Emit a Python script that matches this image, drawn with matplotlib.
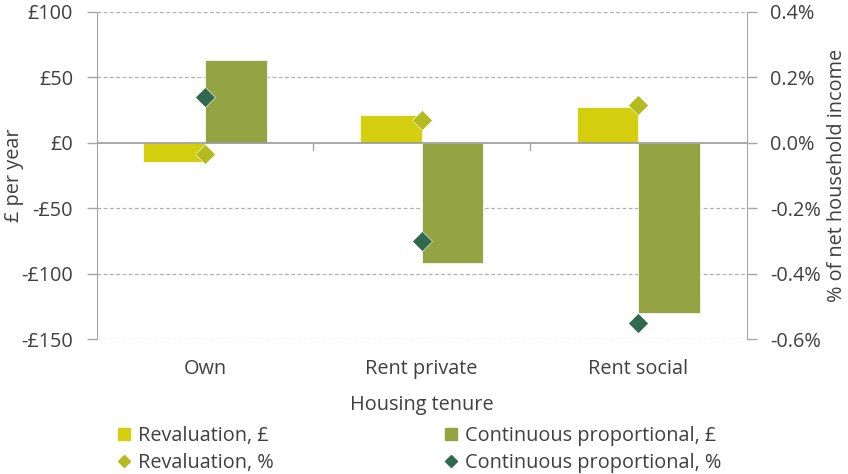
import numpy as np
import matplotlib
matplotlib.use("Agg")
import matplotlib.pyplot as plt
from matplotlib.lines import Line2D

# ============================================================
# DATA
# ============================================================
categories = ["Own", "Rent private", "Rent social"]
reval_gbp = [-15, 21, 27]
cont_gbp = [63, -92, -130]
reval_pct = [-0.036, 0.07, 0.116]
cont_pct = [0.14, -0.30, -0.55]

left_ticks = [100, 50, 0, -50, -100, -150]
right_ticks = [0.4, 0.2, 0.0, -0.2, -0.4, -0.6]

# ============================================================
# STYLE
# ============================================================
plt.rcParams['font.family'] = ['Open Sans', 'Noto Sans', 'DejaVu Sans']
TEXT = "#404040"
AXIS = "#a6a6a6"
C_REVAL_BAR = "#d4cf0e"
C_CONT_BAR = "#95a442"
C_REVAL_PT = "#b3bb1f"
C_CONT_PT = "#2f6a4f"
FS = 14.3

fig = plt.figure(figsize=(8.48, 4.74), dpi=100)
ax = fig.add_axes([0.114, 0.2848, 0.7665, 0.6905])
ax2 = ax.twinx()

x = np.arange(len(categories))
w = 0.284

ax.bar(x - w / 2, reval_gbp, w, color=C_REVAL_BAR, edgecolor="white", linewidth=0.5, zorder=3)
ax.bar(x + w / 2, cont_gbp, w, color=C_CONT_BAR, edgecolor="white", linewidth=0.5, zorder=3)
ax.axhline(0, color="#999999", linewidth=1.2, zorder=4)

ax2.plot(x, reval_pct, "D", color=C_REVAL_PT, markersize=10, markeredgecolor="white",
         markeredgewidth=0.4, zorder=5)
ax2.plot(x, cont_pct, "D", color=C_CONT_PT, markersize=10, markeredgecolor="white",
         markeredgewidth=0.4, zorder=5)

ax.set_xlim(-0.5, 2.5)
ax.set_ylim(-150, 100)
ax2.set_ylim(-0.6, 0.4)
ax.set_zorder(ax2.get_zorder() - 1)
ax.patch.set_visible(False)

# gridlines
for v in left_ticks:
    if v != 0:
        ax.axhline(v, color="#b0b0b0", linestyle=(0, (3, 2)), linewidth=0.9, zorder=1)

ax.set_yticks(left_ticks)
ax.set_yticklabels([("-£%d" % -v) if v < 0 else "£%d" % v for v in left_ticks])
ax2.set_yticks(right_ticks)
ax2.set_yticklabels(["%.1f%%" % v for v in right_ticks])

for a in (ax, ax2):
    for s in ("top", "bottom"):
        a.spines[s].set_visible(False)
    a.spines["left"].set_color(AXIS)
    a.spines["right"].set_color(AXIS)
    a.tick_params(axis="y", colors=AXIS, labelcolor=TEXT, labelsize=FS, length=7, width=1, pad=10)

ax.spines["right"].set_visible(False)
ax2.spines["left"].set_visible(False)

# category boundary ticks on the zero line
ax.set_xticks([])
for b in [0.5, 1.5]:
    ax.plot([b, b], [0, -6], color=AXIS, linewidth=1, zorder=4)
for xi, c in zip(x, categories):
    ax.text(xi, -173, c, ha="center", va="center", fontsize=FS, color=TEXT)

ax.set_ylabel("£ per year", fontsize=FS, color=TEXT)
ax.yaxis.set_label_coords(-0.112, 0.5)
ax2.set_ylabel("% of net household income", fontsize=FS, color=TEXT)
ax2.yaxis.set_label_coords(1.1235, 0.5)
fig.text(0.5 * (0.114 + 0.8805), 1 - 405 / 474, "Housing tenure", ha="center", va="center",
         fontsize=FS, color=TEXT)

h_rb = Line2D([], [], marker="s", linestyle="none", color=C_REVAL_BAR, markersize=8.5)
h_rp = Line2D([], [], marker="D", linestyle="none", color=C_REVAL_PT, markersize=6)
h_cb = Line2D([], [], marker="s", linestyle="none", color=C_CONT_BAR, markersize=8.5)
h_cp = Line2D([], [], marker="D", linestyle="none", color=C_CONT_PT, markersize=6)

leg_kw = dict(frameon=False, fontsize=FS, handlelength=0.7, handletextpad=0.35,
              labelspacing=0.35, borderaxespad=0, borderpad=0, labelcolor=TEXT)
fig.legend([h_rb, h_rp], ["Revaluation, £", "Revaluation, %"], loc="upper left",
           bbox_to_anchor=(117 / 848, 1 - 426 / 474), **leg_kw)
fig.legend([h_cb, h_cp], ["Continuous proportional, £", "Continuous proportional, %"],
           loc="upper left", bbox_to_anchor=(444 / 848, 1 - 426 / 474), **leg_kw)

fig.savefig("out.png", dpi=100)
